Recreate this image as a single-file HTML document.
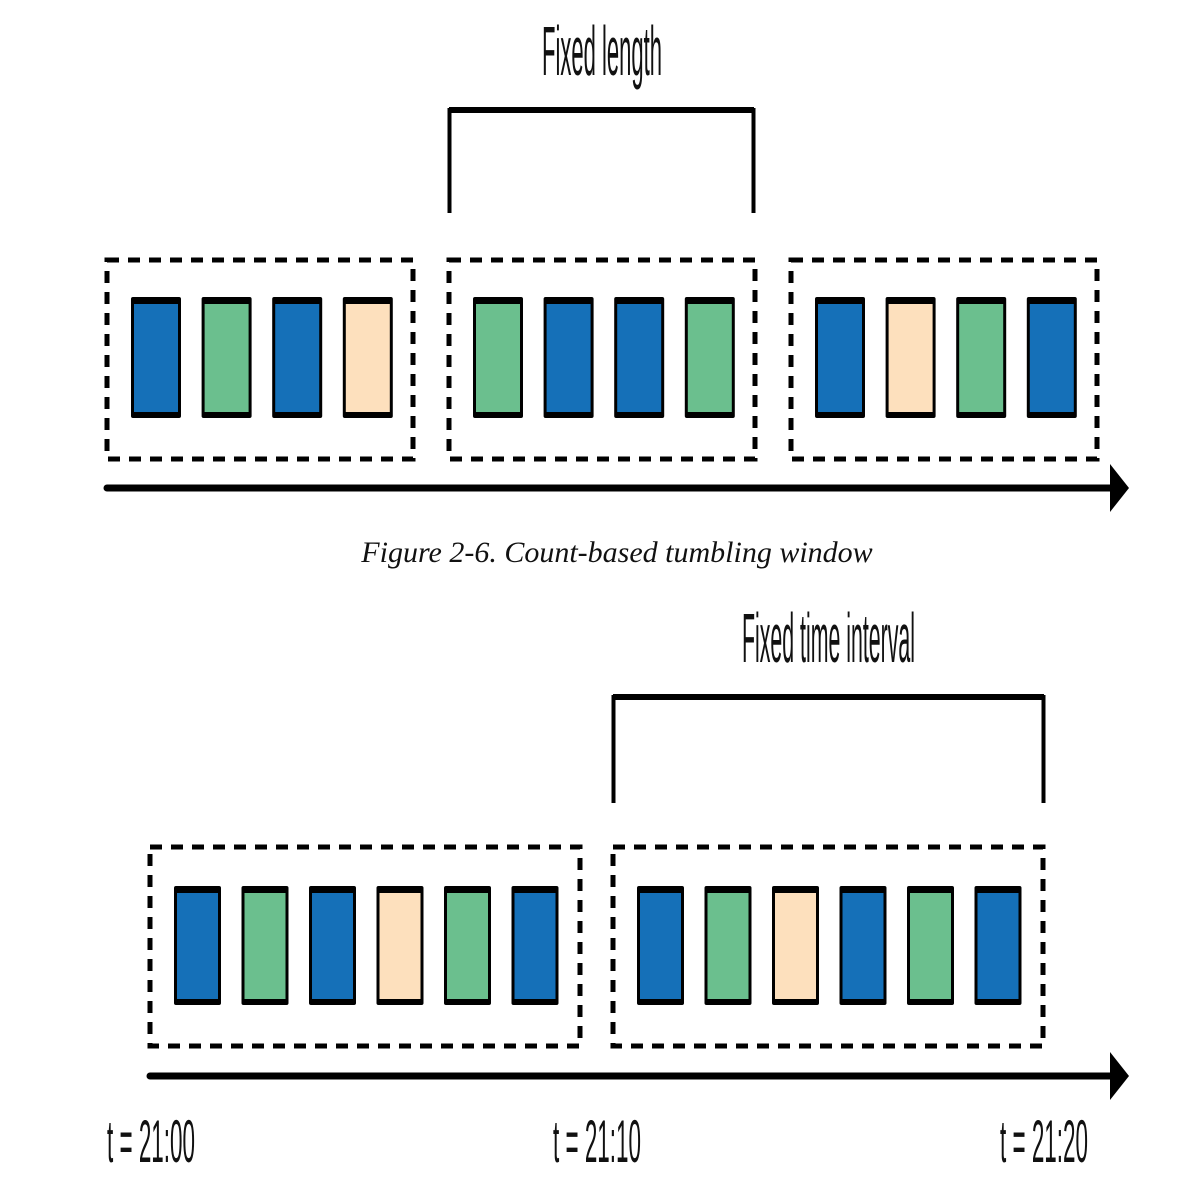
<!DOCTYPE html>
<html><head><meta charset="utf-8">
<style>
html,body{margin:0;padding:0;background:#fff;}
svg{display:block;}
.lbl{font-family:"Liberation Sans",sans-serif;fill:#111;}
</style></head>
<body>
<svg id="fig" width="1184" height="1192" viewBox="0 0 1184 1192" xmlns="http://www.w3.org/2000/svg">
  <text class="lbl" x="542" y="75" font-size="70" textLength="120" lengthAdjust="spacingAndGlyphs">Fixed length</text>
  <path d="M449.5,213 V110 H753.5 V213" fill="none" stroke="#000" stroke-width="4"/>
  <line x1="449" y1="110" x2="754" y2="110" stroke="#000" stroke-width="6"/>
  <g id="top-boxes"></g>
  <g>
    <line x1="107" y1="488" x2="1112" y2="488" stroke="#000" stroke-width="7" stroke-linecap="round"/>
    <polygon points="1110,464 1129,488 1110,512" fill="#000"/>
  </g>
  <text x="617" y="562" text-anchor="middle" font-family="'Liberation Serif',serif" font-style="italic" font-size="30" fill="#111">Figure 2-6. Count-based tumbling window</text>

  <text class="lbl" x="742" y="662" font-size="70" textLength="173" lengthAdjust="spacingAndGlyphs">Fixed time interval</text>
  <path d="M613.5,803 V697 H1043.5 V803" fill="none" stroke="#000" stroke-width="4"/>
  <line x1="613" y1="697" x2="1044" y2="697" stroke="#000" stroke-width="6"/>
  <g id="bottom-boxes"></g>
  <g>
    <line x1="150" y1="1076" x2="1112" y2="1076" stroke="#000" stroke-width="7" stroke-linecap="round"/>
    <polygon points="1110,1052 1129,1076 1110,1100" fill="#000"/>
  </g>
  <text class="lbl" x="107" y="1162" font-size="60" textLength="88" lengthAdjust="spacingAndGlyphs">t = 21:00</text>
  <text class="lbl" x="553" y="1162" font-size="60" textLength="88" lengthAdjust="spacingAndGlyphs">t = 21:10</text>
  <text class="lbl" x="1000" y="1162" font-size="60" textLength="88" lengthAdjust="spacingAndGlyphs">t = 21:20</text>
</svg>
<script>
const COLORS = {b:"#1570b8", g:"#6bbf8e", p:"#fde0bd"};
const topWindows = [["b","g","b","p"],["g","b","b","g"],["b","p","g","b"]];
const bottomWindows = [["b","g","b","p","g","b"],["b","g","p","b","g","b"]];
const NS = "http://www.w3.org/2000/svg";

function drawRow(groupId, windows, cfg, prefix){
  const g = document.getElementById(groupId);
  windows.forEach((win, wi) => {
    const bx = cfg.x0 + wi * cfg.winPitch;
    const r = document.createElementNS(NS, "rect");
    r.setAttribute("x", bx); r.setAttribute("y", cfg.y0);
    r.setAttribute("width", cfg.winW); r.setAttribute("height", cfg.winH);
    r.setAttribute("fill", "none"); r.setAttribute("stroke", "#000");
    r.setAttribute("stroke-width", "5"); r.setAttribute("stroke-dasharray", "12 9");
    
    
    g.appendChild(r);
    win.forEach((c, ei) => {
      const ex = bx + cfg.padX + ei * cfg.pitch;
      const outer = document.createElementNS(NS, "rect");
      outer.setAttribute("x", ex); outer.setAttribute("y", cfg.y0 + cfg.padY);
      outer.setAttribute("width", cfg.barW); outer.setAttribute("height", cfg.barH);
      outer.setAttribute("fill", "#000"); outer.setAttribute("rx", "2");
      
      
      g.appendChild(outer);
      const inner = document.createElementNS(NS, "rect");
      inner.setAttribute("x", ex + 3); inner.setAttribute("y", cfg.y0 + cfg.padY + 7);
      inner.setAttribute("width", cfg.barW - 6); inner.setAttribute("height", cfg.barH - 13);
      inner.setAttribute("fill", COLORS[c]);
      
      
      g.appendChild(inner);
    });
  });
}
drawRow("top-boxes", topWindows, {x0:107, y0:260, winW:306, winH:199, winPitch:342, padX:24, padY:37, pitch:70.6, barW:50, barH:121}, "top");
drawRow("bottom-boxes", bottomWindows, {x0:150, y0:847, winW:430, winH:199, winPitch:463, padX:24, padY:39, pitch:67.5, barW:47, barH:119}, "bottom");
</script>
</body></html>
